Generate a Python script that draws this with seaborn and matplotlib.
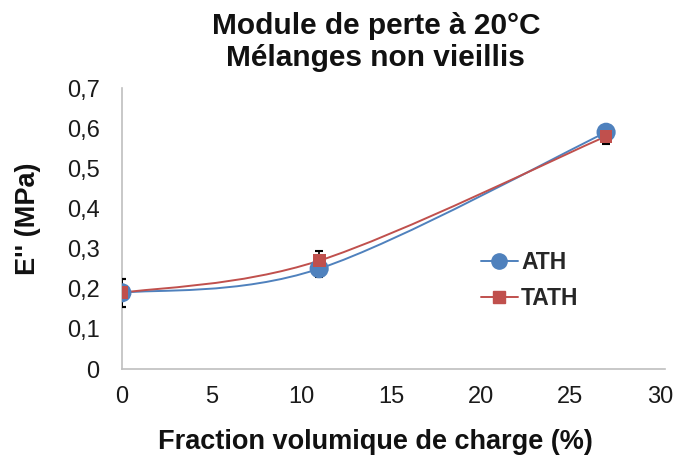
import numpy as np
import pandas as pd
import matplotlib
matplotlib.use("Agg")
import matplotlib.pyplot as plt
from matplotlib.path import Path
from matplotlib.patches import PathPatch
import seaborn as sns

# Loss modulus E'' at 20 °C versus filler volume fraction
fraction = [0, 11, 27]
ath = [0.19, 0.25, 0.59]
ath_err = [0.035, 0.02, 0.01]
tath = [0.19, 0.27, 0.58]
tath_err = [0.035, 0.025, 0.02]

series = ["ATH", "TATH"]
colors = {"ATH": "#4F81BD", "TATH": "#C0504D"}

x_ticks = [0, 5, 10, 15, 20, 25, 30]
y_ticks = [0, 0.1, 0.2, 0.3, 0.4, 0.5, 0.6, 0.7]
y_labels = ["0", "0,1", "0,2", "0,3", "0,4", "0,5", "0,6", "0,7"]

df = pd.DataFrame({
    "x": fraction * 2,
    "y": ath + tath,
    "err": ath_err + tath_err,
    "serie": ["ATH"] * 3 + ["TATH"] * 3,
})

sns.set_theme(style="white")
plt.rcParams["font.family"] = ["Liberation Sans", "DejaVu Sans"]

fig = plt.figure(figsize=(6.81, 4.59), dpi=100)
ax = fig.add_axes([0.179, 0.196, 0.79, 0.612])


def smooth_path(xs, ys):
    """Catmull-Rom style Bezier path through the points (spreadsheet smoothing)."""
    pts = np.column_stack([xs, ys]).astype(float)
    n = len(pts)
    verts = [pts[0]]
    codes = [Path.MOVETO]
    for i in range(n - 1):
        p0 = pts[i - 1] if i > 0 else pts[i]
        p1 = pts[i]
        p2 = pts[i + 1]
        p3 = pts[i + 2] if i + 2 < n else pts[i + 1]
        c1 = p1 + (p2 - p0) / 6.0
        c2 = p2 - (p3 - p1) / 6.0
        verts += [c1, c2, p2]
        codes += [Path.CURVE4] * 3
    return Path(verts, codes)


for s in series:
    sub = df[df["serie"] == s]
    ax.add_patch(PathPatch(smooth_path(sub["x"].values, sub["y"].values),
                           facecolor="none", edgecolor=colors[s], lw=1.4, zorder=2))
    ax.errorbar(sub["x"], sub["y"], yerr=sub["err"], fmt="none",
                ecolor="black", elinewidth=1.2, capsize=3, capthick=1.5, zorder=3)

sns.scatterplot(data=df, x="x", y="y", hue="serie", style="serie",
                palette=colors, markers={"ATH": "o", "TATH": "s"},
                size="serie", sizes={"ATH": 190, "TATH": 85},
                edgecolor="none", linewidth=0, legend=False, ax=ax, zorder=4)

# legend entries: line with marker
handles = [
    plt.Line2D([], [], color=colors["ATH"], lw=1.4, marker="o", markersize=11),
    plt.Line2D([], [], color=colors["TATH"], lw=1.4, marker="s", markersize=8.5),
]
leg = ax.legend(handles, series, loc="center left", bbox_to_anchor=(0.629, 0.315),
                frameon=False, handlelength=1.6, handletextpad=0.15,
                labelspacing=0.55, prop={"weight": "bold", "size": 16.5})

ax.set_xlim(0, 30)
ax.set_ylim(0, 0.7)
ax.set_xticks(x_ticks)
ax.set_xticklabels([str(t) for t in x_ticks], fontsize=17)
ax.set_yticks(y_ticks)
ax.set_yticklabels(y_labels, fontsize=17)
ax.tick_params(axis="x", length=0, pad=12, colors="#1a1a1a")
ax.tick_params(axis="y", length=0, pad=16, colors="#1a1a1a")

for side in ["top", "right"]:
    ax.spines[side].set_visible(False)
for side in ["left", "bottom"]:
    ax.spines[side].set_color("#BFBFBF")
    ax.spines[side].set_linewidth(1.2)
ax.spines["bottom"].set_bounds(0, 30.3)

ax.set_xlabel("Fraction volumique de charge (%)", fontsize=19.5, fontweight="bold",
              color="#111111")
ax.xaxis.set_label_coords(0.472, -0.215)
ax.set_ylabel("E'' (MPa)", fontsize=19.5, fontweight="bold", color="#111111")
ax.yaxis.set_label_coords(-0.15, 0.534)
ax.set_title("Module de perte à 20°C\nMélanges non vieillis", fontsize=21.5,
             fontweight="bold", x=0.472, pad=16, linespacing=1.18, color="#111111")

fig.savefig("out.png", dpi=100)
